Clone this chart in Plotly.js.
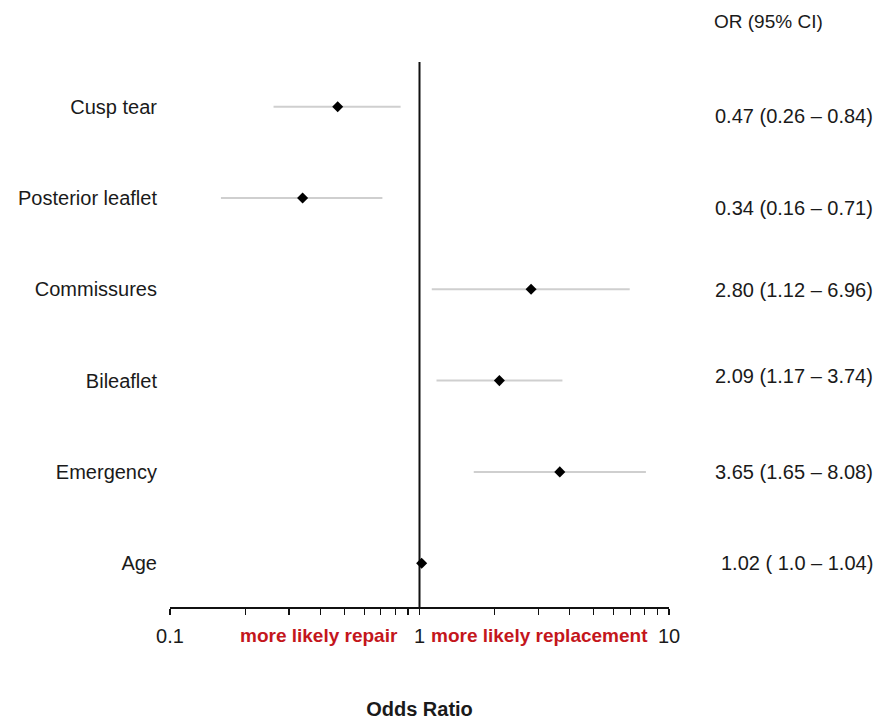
<!DOCTYPE html>
<html>
<head>
<meta charset="utf-8">
<script src="https://cdn.plot.ly/plotly-3.0.1.min.js"></script>
<style>html,body{margin:0;padding:0;background:#fff;}#chart{width:876px;height:720px;}</style>
</head>
<body>
<div id="chart"></div>
<script>
// Data
var categories = ["Cusp tear", "Posterior leaflet", "Commissures", "Bileaflet", "Emergency", "Age"];
var oddsRatio = [0.47, 0.34, 2.80, 2.09, 3.65, 1.02];
var ciLower = [0.26, 0.16, 1.12, 1.17, 1.65, 1.00];
var ciUpper = [0.84, 0.71, 6.96, 3.74, 8.08, 1.04];
var ciLabels = ["0.47 (0.26 – 0.84)", "0.34 (0.16 – 0.71)", "2.80 (1.12 – 6.96)", "2.09 (1.17 – 3.74)", "3.65 (1.65 – 8.08)", "1.02 ( 1.0 – 1.04)"];
var xTickVals = [0.1, 1, 10];
var xTickText = ["0.1", "1", "10"];
var referenceOR = 1;

var n = categories.length;
var yPos = categories.map(function(_, i){ return n - i; });
var yRange = [0.52, 6.49];
var minorVals = [];
[0.1, 1].forEach(function(b){ for (var k = 2; k <= 9; k++) minorVals.push(+(b*k).toFixed(3)); });

var FONT = "Liberation Sans, Arial, sans-serif";
var TXT = "#1a1a1a";
var rowShift = [-9, -10, -1, 5, 0, 0];

var traces = [
  {
    x: [referenceOR, referenceOR], y: yRange, mode: "lines",
    line: {color: "#111", width: 2}, hoverinfo: "skip", showlegend: false
  },
  {
    x: oddsRatio, y: yPos, mode: "markers", type: "scatter",
    marker: {symbol: "diamond", size: 8.5, color: "#000"},
    error_x: {
      type: "data", symmetric: false,
      array: oddsRatio.map(function(v, i){ return ciUpper[i] - v; }),
      arrayminus: oddsRatio.map(function(v, i){ return v - ciLower[i]; }),
      color: "#cfcfcf", thickness: 2, width: 0
    },
    showlegend: false
  }
];

var annotations = [
  {xref: "paper", yref: "paper", x: 1.2, y: 1.075, text: "OR (95% CI)", showarrow: false,
   xanchor: "center", yanchor: "middle", font: {family: FONT, size: 19, color: TXT}},
  {xref: "paper", yref: "paper", x: 0.2986, y: -0.0532, text: "more likely repair", showarrow: false,
   xanchor: "center", yanchor: "middle", font: {family: FONT, size: 19, color: "#c4161c", weight: "bold"}},
  {xref: "paper", yref: "paper", x: 0.7405, y: -0.0532, text: "more likely replacement", showarrow: false,
   xanchor: "center", yanchor: "middle", font: {family: FONT, size: 19, color: "#c4161c", weight: "bold"}}
];
ciLabels.forEach(function(t, i){
  annotations.push({xref: "paper", yref: "y", x: 1.4128, y: yPos[i], text: t, showarrow: false,
    xanchor: "right", yanchor: "middle", yshift: rowShift[i],
    font: {family: FONT, size: 20, color: TXT}});
});

var layout = {
  width: 876, height: 720,
  margin: {l: 170, r: 207, t: 62, b: 113},
  paper_bgcolor: "#fff", plot_bgcolor: "#fff",
  font: {family: FONT, color: TXT, size: 20},
  xaxis: {
    type: "log", range: [-1, 1], tickvals: xTickVals, ticktext: xTickText,
    showgrid: false, zeroline: false, showline: true, linecolor: "#111", linewidth: 1.5,
    ticks: "outside", ticklen: 6, tickcolor: "#111", tickwidth: 1.2,
    minor: {tickvals: minorVals, ticks: "outside", ticklen: 6, tickcolor: "#111", tickwidth: 1.2, showgrid: false},
    tickfont: {family: FONT, size: 20, color: TXT},
    ticklabelstandoff: 4,
    title: {text: "Odds Ratio", font: {family: FONT, size: 20, color: TXT, weight: "bold"}, standoff: 57},
    fixedrange: true
  },
  yaxis: {
    range: yRange, tickvals: yPos, ticktext: categories,
    showgrid: false, zeroline: false, showline: false, ticks: "",
    ticklabelstandoff: 12,
    tickfont: {family: FONT, size: 20, color: TXT},
    fixedrange: true
  },
  annotations: annotations,
  showlegend: false
};

Plotly.newPlot("chart", traces, layout, {displayModeBar: false, staticPlot: true});
</script>
</body>
</html>
